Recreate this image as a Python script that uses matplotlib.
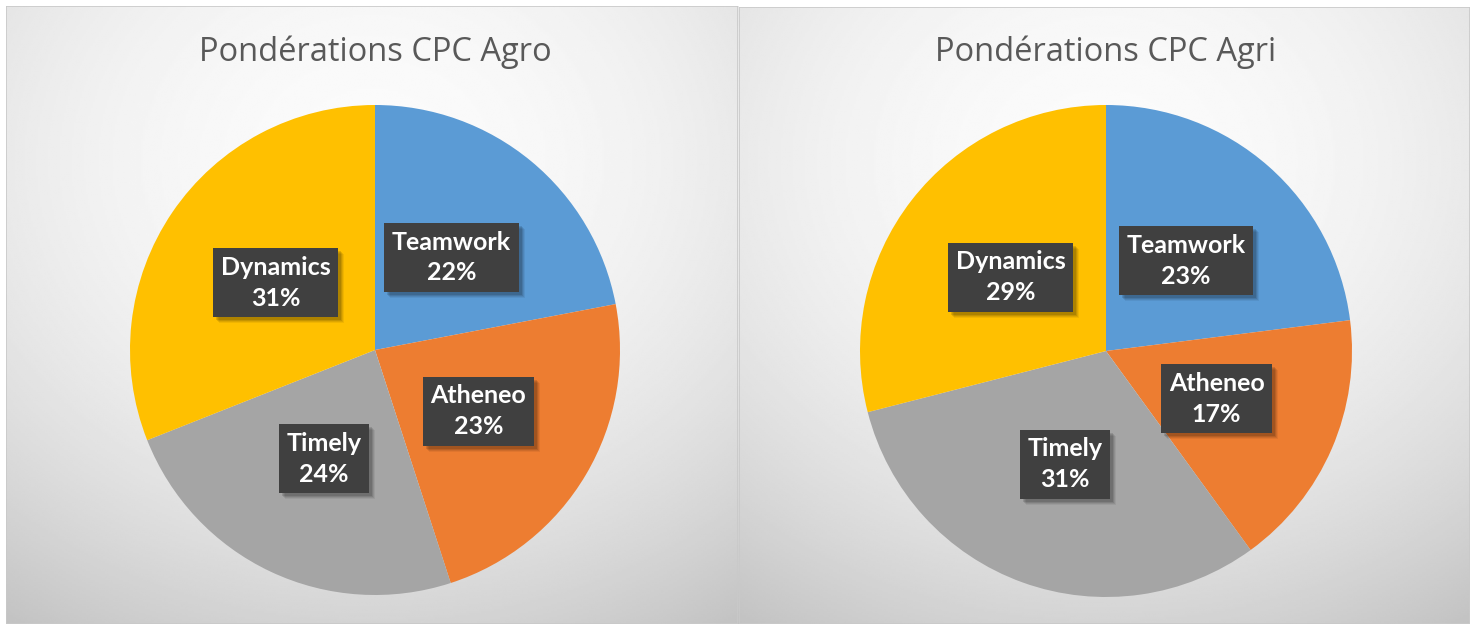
import numpy as np
import matplotlib
matplotlib.use("Agg")
import matplotlib.pyplot as plt
from matplotlib.patches import Rectangle

categories = ["Teamwork", "Atheneo", "Timely", "Dynamics"]
agro_values = [22, 23, 24, 31]
agri_values = [23, 17, 31, 29]
titles = ["Pondérations CPC Agro", "Pondérations CPC Agri"]
colors = ["#5B9BD5", "#ED7D31", "#A5A5A5", "#FFC000"]

W, H = 1477, 624
fig = plt.figure(figsize=(W / 100, H / 100), dpi=100)
fig.patch.set_facecolor("white")


def px_rect(x0, y0, x1, y1):
    return [x0 / W, 1 - y1 / H, (x1 - x0) / W, (y1 - y0) / H]


panels = [(6, 6, 738, 624), (739, 7, 1470, 624)]
pies = [(375, 350, 245), (1106, 351, 246)]
datasets = [agro_values, agri_values]

label_texts = []
for panel, (cx, cy, r), values, title in zip(panels, pies, datasets, titles):
    bg = fig.add_axes(px_rect(*panel))
    ny, nx = 300, 360
    yy, xx = np.mgrid[0:1:ny * 1j, 0:1:nx * 1j]
    d2 = (xx - 0.5) ** 2 + (yy - 0.25) ** 2
    v = np.clip((251 - 70 * d2) / 255, 0, 1)
    bg.imshow(v, cmap="gray", vmin=0, vmax=1, extent=[0, 1, 1, 0],
              aspect="auto", interpolation="bilinear")
    bg.set_xlim(0, 1)
    bg.set_ylim(1, 0)
    bg.set_axis_off()
    bg.add_patch(Rectangle((0, 0), 1, 1, transform=bg.transAxes, fill=False,
                           ec="#c9c9c9", lw=1.2))

    fig.text(cx / W, 1 - 52 / H, title, ha="center", va="center",
             fontsize=23.5, color="#595959", family="Open Sans")

    ax = fig.add_axes(px_rect(cx - r, cy - r, cx + r, cy + r))
    wedges, _ = ax.pie(values, colors=colors, startangle=90,
                       counterclock=False, radius=1,
                       wedgeprops=dict(linewidth=0))
    ax.set_xlim(-1, 1)
    ax.set_ylim(-1, 1)
    ax.set_autoscale_on(False)
    ax.set_axis_off()
    for w, cat, val in zip(wedges, categories, values):
        ang = np.deg2rad((w.theta1 + w.theta2) / 2)
        x, y = 0.49 * np.cos(ang), 0.49 * np.sin(ang)
        s = f"{cat}\n{val}%"
        t = ax.text(x, y, s, ha="center", va="center", fontsize=18,
                    fontweight="bold", family="Lato", linespacing=1.42,
                    color="white", zorder=5,
                    bbox=dict(boxstyle="square,pad=0.3", fc="#404040", ec="none"))
        label_texts.append((ax, t))

# soft drop shadows behind the label boxes (between pie and label)
fig.canvas.draw()
for ax, t in label_texts:
    bb = t.get_bbox_patch().get_window_extent()
    inv = ax.transData.inverted()
    for k, a in [(7, 0.06), (6, 0.08), (5, 0.10), (4, 0.12)]:
        (x0, y0), (x1, y1) = inv.transform([(bb.x0 + k - 1, bb.y0 - k + 1),
                                            (bb.x1 + k - 1, bb.y1 - k + 1)])
        ax.add_patch(Rectangle((x0, y0), x1 - x0, y1 - y0, fc="black",
                               alpha=a, ec="none", zorder=3))

fig.savefig("out.png", dpi=100, facecolor="white")
